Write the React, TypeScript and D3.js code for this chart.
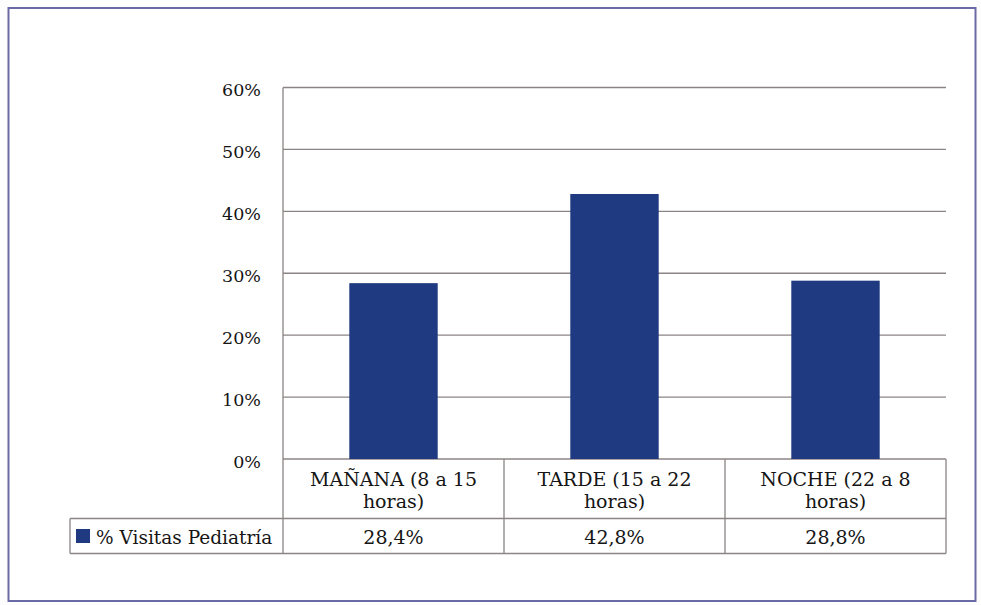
import React from "react";
import * as d3 from "d3";

const categories = ["MAÑANA (8 a 15 horas)", "TARDE (15 a 22 horas)", "NOCHE (22 a 8 horas)"];
const categoryLines = [["MAÑANA (8 a 15", "horas)"], ["TARDE (15 a 22", "horas)"], ["NOCHE (22 a 8", "horas)"]];
const values = [28.4, 42.8, 28.8];
const valueLabels = ["28,4%", "42,8%", "28,8%"];
const yTicks = [0, 10, 20, 30, 40, 50, 60];
const seriesName = "% Visitas Pediatría";

const W = 981, H = 605;
const left = 283, right = 946, top = 87.5, bottom = 459;
const headerBottom = 518.5, rowBottom = 553.5, legendLeft = 70;
const FONT = "DejaVu Serif, Liberation Serif, serif";
const GRID = "#8c8484";
const BAR = "#1f3a80";
const TXT: React.CSSProperties = { fontFamily: FONT };
const INK = "#151515";

export default function App() {
  const x = d3.scaleBand<string>().domain(categories).range([left, right]).paddingInner(0).paddingOuter(0);
  const y = d3.scaleLinear().domain([0, 60]).range([bottom, top]);
  const bw = x.bandwidth();
  const barW = bw * 0.4;
  return (
    <svg width={W} height={H} style={{ position: "absolute", left: 0, top: 0, background: "#fff" }}>
      <rect x={0} y={0} width={W} height={H} fill="#fdfdfd" />
      <rect x={8.5} y={8} width={967} height={593} fill="#ffffff" stroke="#6a6aa6" strokeWidth={2} />
      {yTicks.map((t) => (
        <g key={t}>
          <line x1={left} x2={right} y1={y(t)} y2={y(t)} stroke={GRID} strokeWidth={1.3} />
          <text x={261} y={y(t) + 8.5} textAnchor="end" fontSize={17.5} fill={INK} style={TXT}>{t}%</text>
        </g>
      ))}
      <line x1={left} x2={left} y1={top} y2={rowBottom} stroke={GRID} strokeWidth={1.3} />
      {categories.map((c, i) => (
        <rect key={c} x={(x(c) as number) + (bw - barW) / 2} y={y(values[i])} width={barW} height={bottom - y(values[i])} fill={BAR} />
      ))}
      <line x1={legendLeft} x2={right} y1={headerBottom} y2={headerBottom} stroke={GRID} strokeWidth={1.3} />
      <line x1={legendLeft} x2={right} y1={rowBottom} y2={rowBottom} stroke={GRID} strokeWidth={1.3} />
      <line x1={legendLeft} x2={legendLeft} y1={headerBottom} y2={rowBottom} stroke={GRID} strokeWidth={1.3} />
      {categories.map((c, i) => (
        <line key={"v" + i} x1={(x(c) as number) + bw} x2={(x(c) as number) + bw} y1={bottom} y2={rowBottom} stroke={GRID} strokeWidth={1.3} />
      ))}
      {categories.map((c, i) => (
        <g key={"t" + i}>
          <text x={(x(c) as number) + bw / 2} y={486} textAnchor="middle" fontSize={19} fill={INK} style={TXT}>{categoryLines[i][0]}</text>
          <text x={(x(c) as number) + bw / 2} y={508} textAnchor="middle" fontSize={19} fill={INK} style={TXT}>{categoryLines[i][1]}</text>
          <text x={(x(c) as number) + bw / 2} y={544} textAnchor="middle" fontSize={19} fill={INK} style={TXT}>{valueLabels[i]}</text>
        </g>
      ))}
      <rect x={76} y={529} width={14} height={14} fill={BAR} />
      <text x={96} y={544} fontSize={18.5} fill={INK} style={TXT}>{seriesName}</text>
    </svg>
  );
}
